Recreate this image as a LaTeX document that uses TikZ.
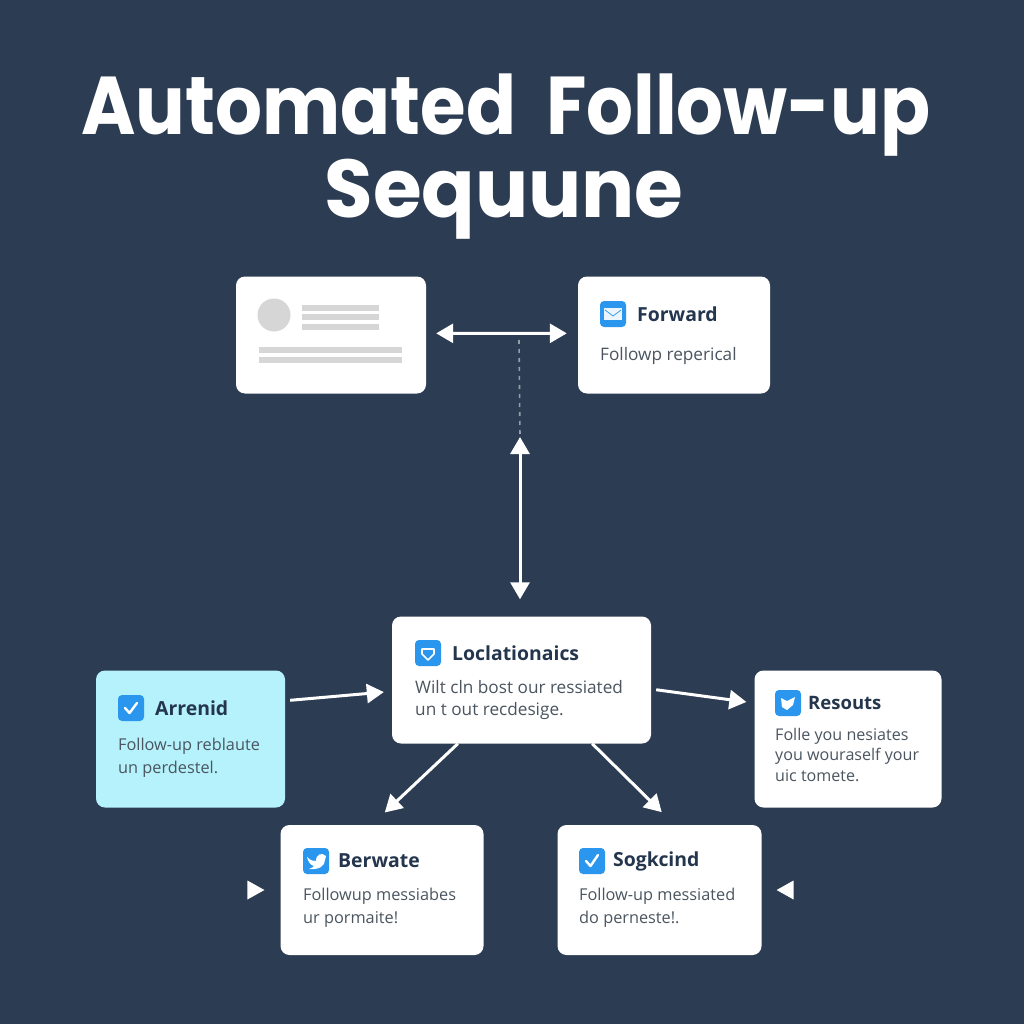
\documentclass[tikz,border=0pt]{standalone}
\usepackage{fontspec}
\setmainfont{Open Sans}
\newfontfamily\titlefont{Poppins}
\usetikzlibrary{arrows.meta,shapes.geometric}
\definecolor{bgblue}{HTML}{2C3C52}
\definecolor{iconblue}{HTML}{2B96EE}
\definecolor{inkblue}{HTML}{24364E}
\definecolor{bodygrey}{HTML}{4A5560}
\definecolor{barcol}{HTML}{D6D6D6}
\definecolor{cyanbox}{HTML}{B5F2FB}
\tikzset{
  card/.style={draw=none,fill=white,rounded corners=9pt,inner sep=0},
  icon/.style={fill=iconblue,rounded corners=4pt,minimum size=26pt,inner sep=0},
  head/.style={anchor=west,inner sep=0,text=inkblue,font=\fontsize{19.4}{23}\selectfont\bfseries},
  body/.style={anchor=north west,inner sep=0,text=bodygrey,align=left,font=\fontsize{17.2}{22.5}\selectfont},
  bodysmall/.style={body,font=\fontsize{16.3}{22.5}\selectfont},
  big/.style={text=white,inner sep=0,xscale=.9,font=\fontsize{82}{96}\titlefont\bfseries},
  arr/.style={draw=white,line width=3pt,-{Triangle[length=17pt,width=19pt]}},
  arrboth/.style={draw=white,line width=3pt,{Triangle[length=17pt,width=19pt]}-{Triangle[length=17pt,width=19pt]}},
  glyph/.style={draw=white,line width=2.4pt,line cap=round,line join=round},
  tri/.style={fill=white,isosceles triangle,isosceles triangle stretches,inner sep=0,minimum width=19pt,minimum height=17pt}
}
\begin{document}
\begin{tikzpicture}[x=1pt,y=-1pt]
  \useasboundingbox (0,0) rectangle (1024,1024);
  \fill[bgblue] (0,0) rectangle (1024,1024);

  \node[big] (title1) at (506,115) {Automated\hspace{.19em} Follow-up};
  \node[big,xscale=1.07] (title2) at (504,199) {Sequune};

  % cards
  \node[card,minimum width=190pt,minimum height=117pt] (blank) at (331,335) {};
  \node[card,minimum width=192pt,minimum height=117pt] (forward) at (674,335) {};
  \node[card,minimum width=259pt,minimum height=127pt] (locat) at (521.5,680) {};
  \node[card,fill=cyanbox,minimum width=189pt,minimum height=137pt] (arrenid) at (190.5,739) {};
  \node[card,minimum width=187pt,minimum height=137pt] (resouts) at (848,739) {};
  \node[card,minimum width=203pt,minimum height=130pt] (berwate) at (382,890) {};
  \node[card,minimum width=204pt,minimum height=130pt] (sogkcind) at (659.5,890) {};

  % placeholder card
  \fill[barcol] (274,315) circle (16.5pt);
  \foreach \y in {308,317,327}
    \fill[barcol] (302,\y-3) rectangle (379,\y+3);
  \foreach \y in {350,360}
    \fill[barcol] (259,\y-3) rectangle (402,\y+3);

  % icons
  \node[icon] (i1) at (613,314) {};
  \node[icon] (i2) at (428,653) {};
  \node[icon] (i3) at (131,708) {};
  \node[icon] (i4) at (788,703) {};
  \node[icon] (i5) at (316,861) {};
  \node[icon] (i6) at (592,861) {};

  \fill[white!90!iconblue] (604,308) rectangle (622,320);
  \draw[iconblue,line width=.7pt] (605,310) -- (613,316) -- (621,310);
  \draw[glyph,line width=1.6pt] (422,649) -- (434,649) -- (434,654) -- (428,660) -- (422,654) -- cycle;
  \draw[glyph] (125,708) -- (129.5,713) -- (137,703);
  \fill[white] (781,698) -- (787,701) -- (795,697) -- (793,705) -- (787,710) -- (782,707) -- cycle;
  \fill[white] (307,857) .. controls (311,861) and (314,861) .. (316,861) .. controls (316,854) and (322,852) .. (326,856) -- (325,860) .. controls (325,866) and (319,870) .. (309,869) .. controls (312,868) and (313,867) .. (314,866) .. controls (310,865) and (308,861) .. (307,857);
  \draw[glyph] (586,861) -- (590.5,866) -- (598,855);

  % headings
  \node[head] at (637,314) {Forward};
  \node[head] at (452,653) {Loclationaics};
  \node[head] at (155,708) {Arrenid};
  \node[head,font=\fontsize{18.5}{22}\selectfont\bfseries] at (808,703) {Resouts};
  \node[head] at (338,861) {Berwate};
  \node[head] at (613,861) {Sogkcind};

  % texts
  \node[body] at (600,347) {Followp reperical};
  \node[body] at (415,680) {Wilt cln bost our ressiated\\un t out recdesige.};
  \node[bodysmall] at (118,738) {Follow-up reblaute\\un perdestel.};
  \node[body,font=\fontsize{16.1}{20.5}\selectfont] at (775,728) {Folle you nesiates\\you wouraself your\\uic tomete.};
  \node[bodysmall] at (303,888) {Followup messiabes\\ur pormaite!};
  \node[bodysmall] at (579,888) {Follow-up messiated\\do perneste!.};

  % connectors
  \coordinate (mid) at (519,340);
  \coordinate (tip) at (520,437);
  \draw[white!50!bgblue,line width=1.6pt,dash pattern=on 4pt off 5pt] (mid) -- (tip);
  \draw[arrboth,shorten <=10pt,shorten >=11pt] (blank.1) -- (forward.179);
  \draw[arrboth,shorten >=17pt] (tip) -- (tip |- locat.north);
  \foreach \from/\to/\gap/\back in {arrenid.22/locat.185/8/5,locat.-4/resouts.159/8/5,locat.225/berwate.99/18/0,locat.-42/sogkcind.77/18/0}
    \draw[arr,shorten <=\back pt,shorten >=\gap pt] (\from) -- (\to);

  \node[tri] (leftmark) at (253,890) {};
  \node[tri,rotate=180] (rightmark) at (788,890) {};
\end{tikzpicture}
\end{document}
